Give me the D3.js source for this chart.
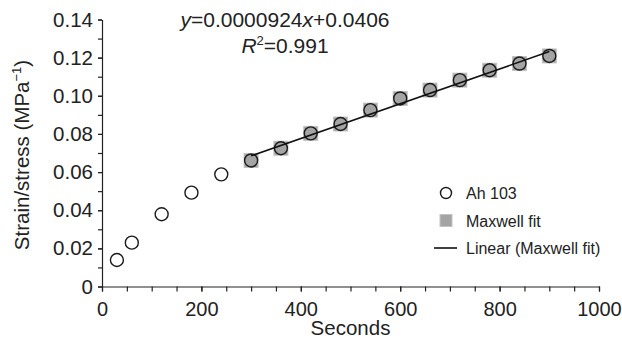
<!DOCTYPE html>
<html>
<head>
<meta charset="utf-8">
<script src="https://cdn.jsdelivr.net/npm/d3@7"></script>
<style>
  body { margin: 0; background: #fff; }
  svg { display: block; font-family: "Liberation Sans", Arial, sans-serif; }
</style>
</head>
<body>
<svg id="chart" width="622" height="341"></svg>
<script>
// data
const ahSeconds = [30, 60, 120, 180, 240, 300, 360, 420, 480, 540, 600, 660, 720, 780, 840, 900];
const ahValues = [0.0139, 0.0230, 0.0379, 0.0492, 0.0588, 0.0661, 0.0725, 0.0803, 0.0852, 0.0925, 0.0986, 0.1030, 0.1082, 0.1134, 0.1169, 0.1209];
const maxwellSeconds = [300, 360, 420, 480, 540, 600, 660, 720, 780, 840, 900];
const maxwellValues = [0.0661, 0.0725, 0.0803, 0.0852, 0.0925, 0.0986, 0.1030, 0.1082, 0.1134, 0.1169, 0.1209];
const fitSeconds = [300, 900];
const fitValues = [0.0685, 0.1232];
const xTicks = [0, 200, 400, 600, 800, 1000];
const xTickLabels = ["0", "200", "400", "600", "800", "1000"];
const yTicks = [0, 0.02, 0.04, 0.06, 0.08, 0.10, 0.12, 0.14];
const yTickLabels = ["0", "0.02", "0.04", "0.06", "0.08", "0.10", "0.12", "0.14"];
const legendLabels = ["Ah 103", "Maxwell fit", "Linear (Maxwell fit)"];

const svg = d3.select("#chart");
const plotLeft = 102, plotRight = 599, plotTop = 19.5, plotBottom = 286.5;
const textColor = "#222";

const x = d3.scaleLinear().domain([0, 1000]).range([plotLeft, plotRight]);
const y = d3.scaleLinear().domain([0, 0.14]).range([plotBottom, plotTop]);

// minor ticks
svg.append("g")
  .attr("transform", `translate(0,${plotBottom})`)
  .call(d3.axisBottom(x).tickValues(d3.range(0, 1001, 50)).tickSize(5).tickFormat(""))
  .call(g => g.select(".domain").remove());
svg.append("g")
  .attr("transform", `translate(${plotLeft},0)`)
  .call(d3.axisLeft(y).tickValues(d3.range(0, 0.1401, 0.01)).tickSize(4).tickFormat(""))
  .call(g => g.select(".domain").remove());

// X axis
svg.append("g")
  .attr("transform", `translate(0,${plotBottom})`)
  .call(d3.axisBottom(x).tickValues(xTicks).tickSize(5).tickSizeOuter(0).tickPadding(10)
    .tickFormat((d, i) => xTickLabels[i]))
  .call(g => g.selectAll("text").attr("font-size", 20).attr("fill", textColor).attr("font-family", null));

// Y axis
svg.append("g")
  .attr("transform", `translate(${plotLeft},0)`)
  .call(d3.axisLeft(y).tickValues(yTicks).tickSize(4).tickSizeOuter(0).tickPadding(5)
    .tickFormat((d, i) => yTickLabels[i]))
  .call(g => g.selectAll("text").attr("font-size", 20.5).attr("fill", textColor).attr("font-family", null));

svg.selectAll(".domain, .tick line").attr("stroke", "#222").attr("stroke-width", 1.2);

// axis titles
svg.append("text")
  .attr("x", (plotLeft + plotRight) / 2)
  .attr("y", 335)
  .attr("text-anchor", "middle")
  .attr("font-size", 20.5)
  .attr("fill", textColor)
  .text("Seconds");

const yTitle = svg.append("text")
  .attr("transform", `translate(29,${(plotTop + plotBottom) / 2 + 2}) rotate(-90)`)
  .attr("text-anchor", "middle")
  .attr("font-size", 20.5)
  .attr("fill", textColor);
yTitle.append("tspan").text("Strain/stress (MPa");
yTitle.append("tspan").attr("dy", -8).attr("font-size", 13).text("\u22121");
yTitle.append("tspan").attr("dy", 8).text(")");

// Maxwell fit squares
const sq = 14;
svg.selectAll(".mx")
  .data(maxwellSeconds)
  .enter()
  .append("rect")
  .attr("x", (d) => x(d) - sq / 2)
  .attr("y", (d, i) => y(maxwellValues[i]) - sq / 2)
  .attr("width", sq)
  .attr("height", sq)
  .attr("fill", "#a4a4a4")
  .attr("stroke", "#c4c4c4")
  .attr("stroke-width", 1);

// Ah 103 circles
svg.selectAll(".ah")
  .data(ahSeconds)
  .enter()
  .append("circle")
  .attr("cx", (d) => x(d))
  .attr("cy", (d, i) => y(ahValues[i]))
  .attr("r", 6.5)
  .attr("fill", "none")
  .attr("stroke", "#1a1a1a")
  .attr("stroke-width", 1.4);

// linear fit
svg.append("path")
  .datum(fitSeconds)
  .attr("d", d3.line().x((d) => x(d)).y((d, i) => y(fitValues[i])))
  .attr("fill", "none")
  .attr("stroke", "#111")
  .attr("stroke-width", 1.6);

// equation
const eq = svg.append("text")
  .attr("x", 285)
  .attr("y", 27)
  .attr("text-anchor", "middle")
  .attr("font-size", 21)
  .attr("fill", textColor);
eq.append("tspan").attr("font-style", "italic").text("y");
eq.append("tspan").text("=0.0000924");
eq.append("tspan").attr("font-style", "italic").text("x");
eq.append("tspan").text("+0.0406");

const r2 = svg.append("text")
  .attr("x", 285)
  .attr("y", 53)
  .attr("text-anchor", "middle")
  .attr("font-size", 21)
  .attr("fill", textColor);
r2.append("tspan").attr("font-style", "italic").text("R");
r2.append("tspan").attr("dy", -8).attr("font-size", 13).text("2");
r2.append("tspan").attr("dy", 8).text("=0.991");

// legend
const legend = svg.append("g").attr("transform", "translate(446,193)");
const rowGap = 27.5;
legend.append("circle").attr("cx", 0).attr("cy", 0).attr("r", 5.5)
  .attr("fill", "none").attr("stroke", "#1a1a1a").attr("stroke-width", 1.4);
legend.append("rect").attr("x", -6).attr("y", rowGap - 6).attr("width", 12).attr("height", 12)
  .attr("fill", "#a4a4a4").attr("stroke", "#c4c4c4");
legend.append("line").attr("x1", -12).attr("x2", 11).attr("y1", rowGap * 2).attr("y2", rowGap * 2)
  .attr("stroke", "#111").attr("stroke-width", 1.6);
legend.selectAll(".lt")
  .data(legendLabels)
  .enter()
  .append("text")
  .attr("x", 20)
  .attr("y", (d, i) => i * rowGap + 6)
  .attr("font-size", 16)
  .attr("fill", textColor)
  .text((d) => d);
</script>
</body>
</html>
